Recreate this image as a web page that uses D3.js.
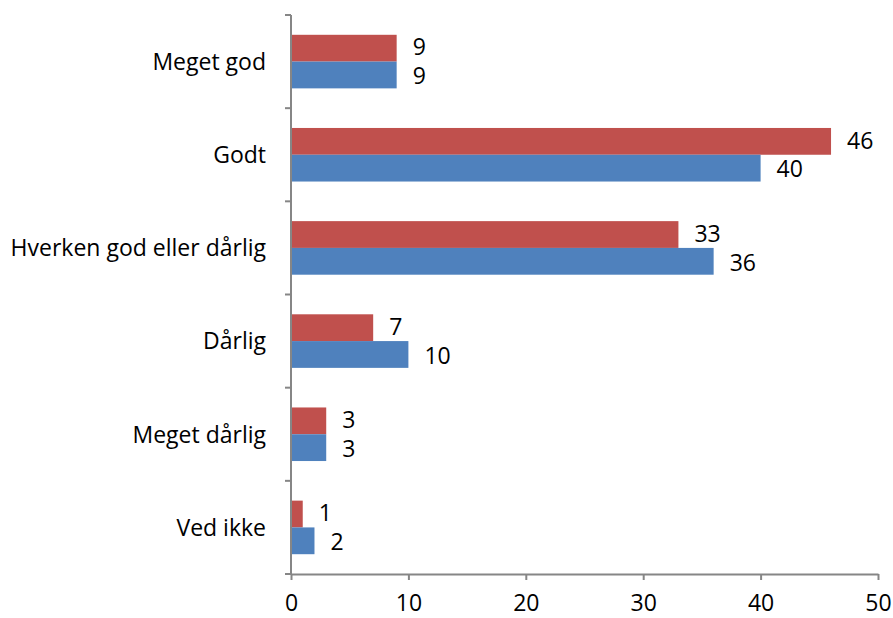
<!DOCTYPE html>
<html>
<head>
<meta charset="utf-8">
<script src="https://cdn.jsdelivr.net/npm/d3@7"></script>
<style>
  body { margin: 0; background: #fff; }
  text { font-family: "Open Sans", "Liberation Sans", sans-serif; fill: #000; }
</style>
</head>
<body>
<div id="chart"></div>
<script>
// data
var categories = ["Meget god", "Godt", "Hverken god eller dårlig", "Dårlig", "Meget dårlig", "Ved ikke"];
var redValues = [9, 46, 33, 7, 3, 1];
var blueValues = [9, 40, 36, 10, 3, 2];
var xTicks = [0, 10, 20, 30, 40, 50];

var svgWidth = 893;
var svgHeight = 618;
var fontSize = "23px";

var margin = { top: 15, right: 15, bottom: 44, left: 291 };
var width = svgWidth - margin.left - margin.right;
var height = svgHeight - margin.top - margin.bottom;

var svg = d3.select("#chart")
  .append("svg")
  .attr("width", svgWidth)
  .attr("height", svgHeight);

var chartGroup = svg.append("g")
  .attr("transform", `translate(${margin.left}, ${margin.top})`);

// scales
var xScale = d3.scaleLinear()
  .domain([0, 50])
  .range([0, 587]);

var yScale = d3.scaleBand()
  .domain(categories)
  .range([0, height])
  .paddingInner(0.425)
  .paddingOuter(0.2125);

var half = yScale.bandwidth() / 2;

// bars
var rows = categories.map(function(c, i) {
  return { cat: c, red: redValues[i], blue: blueValues[i] };
});

chartGroup.selectAll(".bar-red")
  .data(rows)
  .enter()
  .append("rect")
  .attr("class", "bar-red")
  .attr("x", 0)
  .attr("y", d => yScale(d.cat))
  .attr("width", d => xScale(d.red))
  .attr("height", half)
  .attr("fill", "#C0504D");

chartGroup.selectAll(".bar-blue")
  .data(rows)
  .enter()
  .append("rect")
  .attr("class", "bar-blue")
  .attr("x", 0)
  .attr("y", d => yScale(d.cat) + half)
  .attr("width", d => xScale(d.blue))
  .attr("height", half)
  .attr("fill", "#4F81BD");

// value labels
chartGroup.selectAll(".lbl-red")
  .data(rows)
  .enter()
  .append("text")
  .attr("x", d => xScale(d.red) + 16)
  .attr("y", d => yScale(d.cat) + half / 2 - 1)
  .attr("dy", "0.36em")
  .style("font-size", fontSize)
  .text(d => d.red);

chartGroup.selectAll(".lbl-blue")
  .data(rows)
  .enter()
  .append("text")
  .attr("x", d => xScale(d.blue) + 16)
  .attr("y", d => yScale(d.cat) + half * 1.5 + 1)
  .attr("dy", "0.36em")
  .style("font-size", fontSize)
  .text(d => d.blue);

// axes
var bottomAxis = d3.axisBottom(xScale)
  .tickValues(xTicks)
  .tickSize(6)
  .tickSizeOuter(0)
  .tickPadding(15);

var xAxisG = chartGroup.append("g")
  .attr("transform", `translate(0, ${height})`)
  .call(bottomAxis);

xAxisG.selectAll("text").style("font-size", fontSize);

// y axis: ticks at band boundaries, labels centered
var yAxisG = chartGroup.append("g");
var step = yScale.step();

yAxisG.append("line")
  .attr("x1", 0).attr("x2", 0)
  .attr("y1", 0).attr("y2", height);

yAxisG.selectAll(".ytick")
  .data(d3.range(categories.length + 1))
  .enter()
  .append("line")
  .attr("x1", -6).attr("x2", 0)
  .attr("y1", i => i * step)
  .attr("y2", i => i * step);

yAxisG.selectAll(".ylabel")
  .data(categories)
  .enter()
  .append("text")
  .attr("x", -25)
  .attr("y", d => yScale(d) + half)
  .attr("dy", "0.36em")
  .attr("text-anchor", "end")
  .style("font-size", fontSize)
  .text(d => d);

chartGroup.selectAll("line, path.domain")
  .attr("stroke", "#868686")
  .attr("stroke-width", 2);
</script>
</body>
</html>
